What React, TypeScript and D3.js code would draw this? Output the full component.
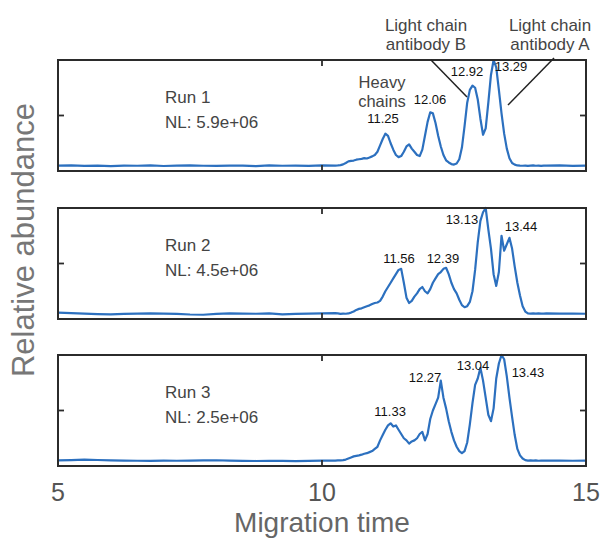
import React from "react";
import * as d3 from "d3";

// ---------- DATA ----------
const xTicks = [5, 10, 15];
const yTicks = [0.48, 1.0];

const baseTimes = [5.0, 5.25, 5.5, 5.75, 6.0, 6.25, 6.5, 6.75, 7.0, 7.25, 7.5, 7.75, 8.0, 8.25, 8.5, 8.75, 9.0, 9.25, 9.5, 9.75, 10.0, 10.25];
const peakTimes = [
  10.3, 10.35, 10.4, 10.45, 10.5, 10.55, 10.6, 10.65, 10.7, 10.75, 10.8, 10.85, 10.9, 10.95,
  11.0, 11.05, 11.1, 11.15, 11.2, 11.25, 11.3, 11.35, 11.4, 11.45, 11.5, 11.55, 11.6, 11.65, 11.7, 11.75, 11.8, 11.85, 11.9, 11.95,
  12.0, 12.05, 12.1, 12.15, 12.2, 12.25, 12.3, 12.35, 12.4, 12.45, 12.5, 12.55, 12.6, 12.65, 12.7, 12.75, 12.8, 12.85, 12.9, 12.95,
  13.0, 13.05, 13.1, 13.15, 13.2, 13.25, 13.3, 13.35, 13.4, 13.45, 13.5, 13.55, 13.6, 13.65, 13.7, 13.75, 13.8, 13.85, 13.9, 13.95,
  14.0, 14.05, 14.1, 14.15, 14.2,
];
const tailTimes = [14.25, 14.5, 14.75, 15.0];

const run1Base = [0.01, 0.012, 0.008, 0.01, 0.006, 0.011, 0.009, 0.012, 0.007, 0.01, 0.013, 0.009, 0.008, 0.011, 0.01, 0.006, 0.012, 0.009, 0.01, 0.008, 0.012, 0.01];
const run1Peaks = [
  0.012, 0.015, 0.022, 0.035, 0.05, 0.055, 0.058, 0.066, 0.07, 0.074, 0.08, 0.077, 0.086, 0.097,
  0.11, 0.14, 0.2, 0.26, 0.31, 0.29, 0.22, 0.16, 0.11, 0.09, 0.1, 0.14, 0.19, 0.21, 0.17, 0.14, 0.11, 0.1, 0.16, 0.29,
  0.42, 0.51, 0.5, 0.41, 0.29, 0.19, 0.11, 0.06, 0.04, 0.025, 0.02, 0.03, 0.07, 0.18, 0.38, 0.6, 0.72, 0.76, 0.74, 0.63,
  0.45, 0.3, 0.36, 0.6, 0.86, 1.0, 0.93, 0.72, 0.5, 0.31, 0.17, 0.08, 0.035, 0.02, 0.012, 0.01, 0.009, 0.011, 0.008, 0.01,
  0.012, 0.009, 0.011, 0.008, 0.01,
];
const run1Tail = [0.01, 0.012, 0.008, 0.011];

const run2Base = [0.02, 0.015, 0.01, 0.006, 0.004, 0.008, 0.01, 0.012, 0.01, 0.008, 0.002, 0.0, 0.008, 0.012, 0.01, 0.009, 0.012, 0.004, 0.008, 0.01, 0.012, 0.015];
const run2Peaks = [
  0.012, 0.008, 0.01, 0.009, 0.012, 0.02, 0.03, 0.045, 0.055, 0.06, 0.07, 0.08, 0.088, 0.1,
  0.11, 0.115, 0.13, 0.17, 0.22, 0.26, 0.3, 0.34, 0.38, 0.42, 0.43, 0.3, 0.16, 0.11, 0.13, 0.17, 0.2, 0.24, 0.26, 0.22,
  0.2, 0.24, 0.3, 0.34, 0.38, 0.4, 0.43, 0.44, 0.38, 0.3, 0.24, 0.2, 0.14, 0.09, 0.07, 0.08, 0.12, 0.22, 0.42, 0.68,
  0.88, 0.96, 1.0, 0.8, 0.62, 0.38, 0.27, 0.4, 0.74, 0.6, 0.66, 0.72, 0.62, 0.45, 0.3, 0.18, 0.08, 0.03, 0.012, 0.01,
  0.012, 0.01, 0.013, 0.011, 0.01,
];
const run2Tail = [0.012, 0.01, 0.011, 0.009];

const run3Base = [0.012, 0.015, 0.02, 0.016, 0.012, 0.01, 0.009, 0.008, 0.011, 0.009, 0.01, 0.012, 0.014, 0.01, 0.008, 0.007, 0.009, 0.008, 0.006, 0.008, 0.01, 0.01];
const run3Peaks = [
  0.012, 0.012, 0.015, 0.02, 0.03, 0.04, 0.05, 0.055, 0.06, 0.066, 0.075, 0.08, 0.09, 0.1,
  0.12, 0.14, 0.2, 0.25, 0.3, 0.34, 0.36, 0.33, 0.34, 0.3, 0.26, 0.22, 0.2, 0.17, 0.19, 0.2, 0.22, 0.26, 0.28, 0.2,
  0.26, 0.4, 0.48, 0.54, 0.6, 0.76, 0.6, 0.5, 0.38, 0.28, 0.2, 0.14, 0.1, 0.08, 0.1, 0.18, 0.35, 0.55, 0.72, 0.78,
  0.88, 0.76, 0.6, 0.44, 0.38, 0.5, 0.78, 0.92, 1.0, 0.96, 0.8, 0.6, 0.42, 0.25, 0.12, 0.06, 0.03, 0.015, 0.01, 0.012,
  0.01, 0.012, 0.009, 0.011, 0.01,
];
const run3Tail = [0.01, 0.011, 0.009, 0.01];

const runNames = ["Run 1", "Run 2", "Run 3"];
const runNL = ["NL: 5.9e+06", "NL: 4.5e+06", "NL: 2.5e+06"];

// peak labels: text and anchor [time, level]
const run1Labels = ["11.25", "12.06", "12.92", "13.29"];
const run1LabelPos = [[11.155, 0.41], [12.045, 0.59], [12.746, 0.85], [13.58, 0.9]];
const run2Labels = ["11.56", "12.39", "13.13", "13.44"];
const run2LabelPos = [[11.458, 0.485], [12.29, 0.485], [12.65, 0.85], [13.77, 0.785]];
const run3Labels = ["11.33", "12.27", "13.04", "13.43"];
const run3LabelPos = [[11.29, 0.43], [11.95, 0.747], [12.86, 0.86], [13.9, 0.794]];

// ---------- LAYOUT ----------
const W = 604;
const H = 555;
const X0 = 58;
const X1 = 586;
const panelTops = [60, 208, 355];
const panelH = 111;
const FONT = "'Liberation Sans', Arial, Helvetica, sans-serif";
const BLUE = "#2c70bf";

const x = d3.scaleLinear().domain([5, 15]).range([X0, X1]);

function buildSeries(base: number[], peaks: number[], tail: number[]) {
  const t = [...baseTimes, ...peakTimes, ...tailTimes];
  const v = [...base, ...peaks, ...tail];
  return t.map((tt, i) => [tt, v[i]] as [number, number]);
}

const runs = [
  { series: buildSeries(run1Base, run1Peaks, run1Tail), labels: run1Labels, pos: run1LabelPos },
  { series: buildSeries(run2Base, run2Peaks, run2Tail), labels: run2Labels, pos: run2LabelPos },
  { series: buildSeries(run3Base, run3Peaks, run3Tail), labels: run3Labels, pos: run3LabelPos },
];

function Panel({ idx }: { idx: number }) {
  const top = panelTops[idx];
  const y = d3.scaleLinear().domain([-0.04, 1.0]).range([top + panelH, top]);
  const run = runs[idx];
  const line = d3
    .line<[number, number]>()
    .x((d) => x(d[0]))
    .y((d) => y(d[1]))
    .curve(d3.curveLinear);
  const tl = 6;
  return (
    <g>
      <path d={line(run.series) || ""} fill="none" stroke={BLUE} strokeWidth={2.2} strokeLinejoin="round" />
      <rect x={X0} y={top} width={X1 - X0} height={panelH} fill="none" stroke="#2b2b2b" strokeWidth={2} />
      {xTicks.map((t) => (
        <g key={"xt" + t}>
          <line x1={x(t)} x2={x(t)} y1={top} y2={top + tl} stroke="#2b2b2b" strokeWidth={1.8} />
          <line x1={x(t)} x2={x(t)} y1={top + panelH} y2={top + panelH - tl} stroke="#2b2b2b" strokeWidth={1.8} />
        </g>
      ))}
      {yTicks.map((v) => (
        <g key={"yt" + v}>
          <line x1={X0} x2={X0 + tl} y1={y(v)} y2={y(v)} stroke="#2b2b2b" strokeWidth={1.8} />
          <line x1={X1} x2={X1 - tl} y1={y(v)} y2={y(v)} stroke="#2b2b2b" strokeWidth={1.8} />
        </g>
      ))}
      <text x={165} y={top + 43} fontSize={17} fill="#444" fontFamily={FONT}>{runNames[idx]}</text>
      <text x={165} y={top + 68} fontSize={17} fill="#444" fontFamily={FONT}>{runNL[idx]}</text>
      {run.labels.map((lab, i) => (
        <text
          key={lab}
          x={x(run.pos[i][0])}
          y={y(run.pos[i][1])}
          fontSize={13}
          fill="#111"
          textAnchor="middle"
          fontFamily={FONT}
        >
          {lab}
        </text>
      ))}
    </g>
  );
}

export default function App() {
  return (
    <svg
      width={W}
      height={H}
      viewBox={`0 0 ${W} ${H}`}
      style={{ position: "absolute", left: 0, top: 0, background: "#fff" }}
    >
      <rect x={0} y={0} width={W} height={H} fill="#fff" />
      {[0, 1, 2].map((i) => (
        <Panel key={i} idx={i} />
      ))}
      {/* annotations above run 1 */}
      <g fontFamily={FONT} fontSize={17} fill="#444" textAnchor="middle">
        <text x={426} y={31}>Light chain</text>
        <text x={426} y={50}>antibody B</text>
        <text x={550} y={31}>Light chain</text>
        <text x={550} y={50}>antibody A</text>
      </g>
      <g fontFamily={FONT} fontSize={16.5} fill="#444" textAnchor="middle">
        <text x={382} y={88}>Heavy</text>
        <text x={382} y={107}>chains</text>
      </g>
      <line x1={431} y1={60} x2={467} y2={97} stroke="#222" strokeWidth={1.5} />
      <line x1={554} y1={58} x2={508} y2={105} stroke="#222" strokeWidth={1.5} />
      {/* x tick labels */}
      {xTicks.map((t) => (
        <text key={"xl" + t} x={x(t)} y={501} fontSize={25} fill="#555" textAnchor="middle" fontFamily={FONT}>
          {t}
        </text>
      ))}
      <text x={322} y={532} fontSize={28} fill="#666" textAnchor="middle" fontFamily={FONT}>
        Migration time
      </text>
      <text
        transform={`translate(34,240) rotate(-90)`}
        fontSize={31}
        fill="#777"
        textAnchor="middle"
        fontFamily={FONT}
      >
        Relative abundance
      </text>
    </svg>
  );
}
